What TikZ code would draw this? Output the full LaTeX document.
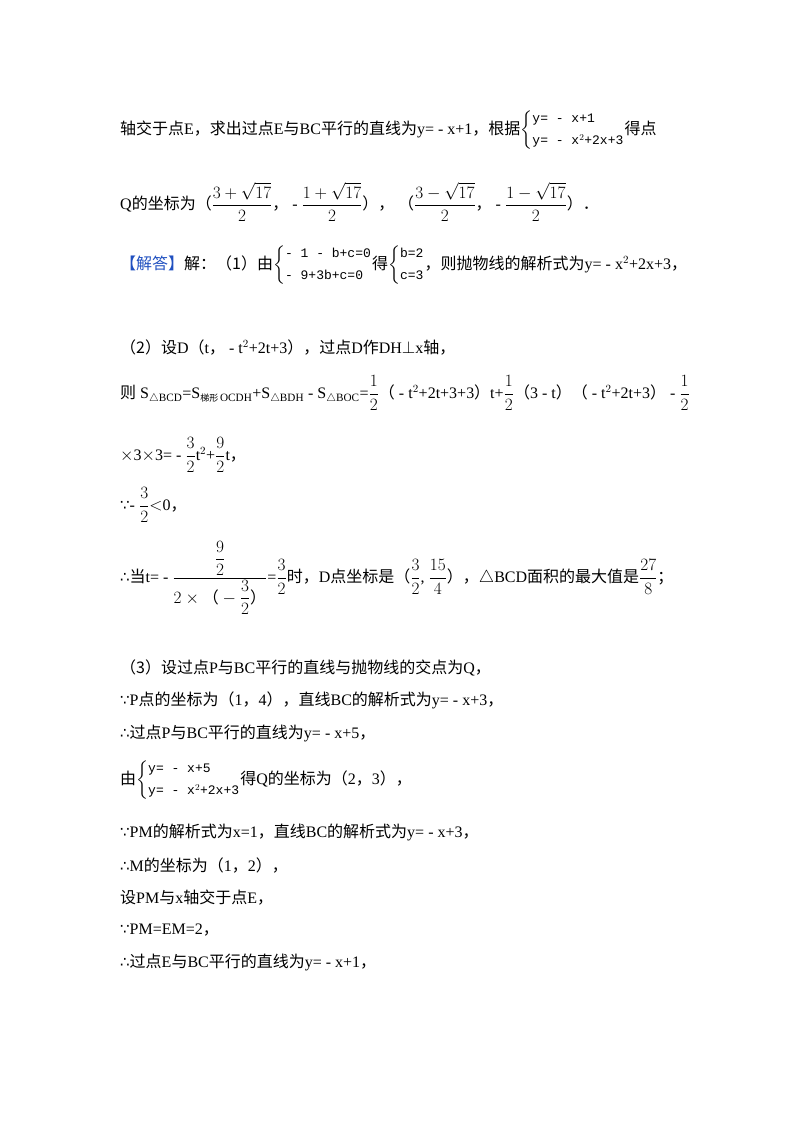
\documentclass[tikz,border=0pt]{standalone}
\usepackage{amsmath,amssymb}
\usepackage{fontspec}
\setmainfont{Liberation Serif}
\newfontfamily\zhf{Noto Sans CJK SC}
\newfontfamily\symf{DejaVu Sans}
\newfontfamily\monof{Liberation Mono}
\newcommand{\zh}[1]{{\zhf #1}}
\newcommand{\so}{{\symf\fontsize{15}{17}\selectfont ∴}}
\newcommand{\bc}{{\symf\fontsize{15}{17}\selectfont ∵}}
\newcommand{\sysb}[2]{$\left\{\begin{array}{@{}l@{}}\text{\monof\fontsize{13}{15}\selectfont #1}\\[3pt]\text{\monof\fontsize{13}{15}\selectfont #2}\end{array}\right.$}
\definecolor{jd}{HTML}{2050C0}
\begin{document}
\begin{tikzpicture}[x=1pt,y=-1pt,every node/.style={anchor=west,inner sep=0pt,font=\fontsize{16}{19}\selectfont}]
\useasboundingbox (0,0) rectangle (800,1132);
\node (l1) at (120,130) {\zh{轴交于点}E\zh{，求出过点}E\zh{与}BC\zh{平行的直线为}y= - x+1\zh{，根据}\sysb{y= - x+1}{y= - x$^2$+2x+3}\zh{得点}};
\node (l2) at (120,202) {Q\zh{的坐标为（}$\dfrac{3+\sqrt{17}}{2}$\zh{，} - $\dfrac{1+\sqrt{17}}{2}$\zh{），\ （}$\dfrac{3-\sqrt{17}}{2}$\zh{，} - $\dfrac{1-\sqrt{17}}{2}$\zh{）．}};
\node (l3) at (120,265) {\textcolor{jd}{\zh{【解答】}}\zh{解：（1）由}\sysb{- 1 - b+c=0}{- 9+3b+c=0}\zh{得}\sysb{b=2}{c=3}\zh{，则抛物线的解析式为}y= - x$^2$+2x+3\zh{，}};
\node (l4) at (120,348) {\zh{（2）设}D\zh{（}t\zh{，} - t$^2$+2t+3\zh{），过点}D\zh{作}DH$\perp$x\zh{轴，}};
\node (l5) at (120,393) {\zh{则} S$_{\triangle\mathrm{BCD}}$=S$_{\text{\zhf\fontsize{9}{10}\selectfont 梯形}\,\mathrm{OCDH}}$+S$_{\triangle\mathrm{BDH}}$ - S$_{\triangle\mathrm{BOC}}$=$\dfrac12$\zh{（} - t$^2$+2t+3+3\zh{）}t+$\dfrac12$\zh{（}3 - t\zh{）（} - t$^2$+2t+3\zh{）} - $\dfrac12$};
\node (l6) at (120,455) {$\times$3$\times$3= - $\dfrac32$t$^2$+$\dfrac92$t\zh{，}};
\node (l7) at (120,505) {\bc - $\dfrac32$$<$0\zh{，}};
\node (l8) at (120,578) {\so\zh{当}t= - $\dfrac{\dfrac92}{2\times\text{\zh{（}} -\dfrac32\text{\zh{）}}}$=$\dfrac32$\zh{时，}D\zh{点坐标是（}$\dfrac32$, $\dfrac{15}{4}$\zh{），}$\triangle$BCD\zh{面积的最大值是}$\dfrac{27}{8}$\zh{；}};
\node (l9) at (120,668) {\zh{（3）设过点}P\zh{与}BC\zh{平行的直线与抛物线的交点为}Q\zh{，}};
\node (l10) at (120,700) {\bc P\zh{点的坐标为（}1\zh{，}4\zh{），直线}BC\zh{的解析式为}y= - x+3\zh{，}};
\node (l11) at (120,733) {\so\zh{过点}P\zh{与}BC\zh{平行的直线为}y= - x+5\zh{，}};
\node (l12) at (120,780) {\zh{由}\sysb{y= - x+5}{y= - x$^2$+2x+3}\zh{得}Q\zh{的坐标为（}2\zh{，}3\zh{），}};
\node (l13) at (120,832) {\bc PM\zh{的解析式为}x=1\zh{，直线}BC\zh{的解析式为}y= - x+3\zh{，}};
\node (l14) at (120,865) {\so M\zh{的坐标为（}1\zh{，}2\zh{），}};
\node (l15) at (120,898) {\zh{设}PM\zh{与}x\zh{轴交于点}E\zh{，}};
\node (l16) at (120,930) {\bc PM=EM=2\zh{，}};
\node (l17) at (120,962) {\so\zh{过点}E\zh{与}BC\zh{平行的直线为}y= - x+1\zh{，}};
\end{tikzpicture}
\end{document}
